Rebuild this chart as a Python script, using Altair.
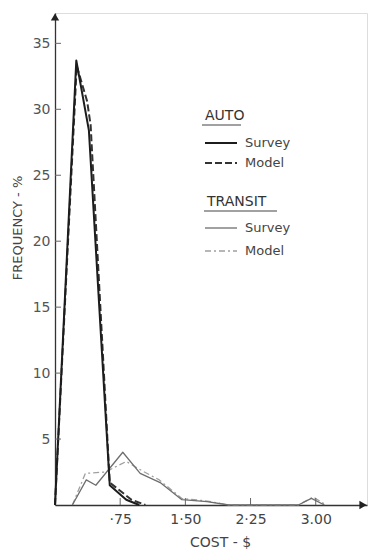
import altair as alt
import pandas as pd

# ---- data ----
auto_survey_cost = [0.0, 0.245, 0.39, 0.63, 0.82, 0.97]
auto_survey_freq = [0.0, 33.7, 28.4, 1.5, 0.4, 0.0]

auto_model_cost = [0.0, 0.25, 0.37, 0.41, 0.63, 0.88, 1.04]
auto_model_freq = [0.0, 33.3, 30.6, 28.8, 1.7, 0.4, 0.0]

transit_survey_cost = [0.2, 0.36, 0.47, 0.78, 0.98, 1.21, 1.46, 1.75, 2.0, 2.8, 2.95, 3.1]
transit_survey_freq = [0.0, 1.9, 1.5, 4.0, 2.4, 1.7, 0.4, 0.25, 0.0, 0.0, 0.5, 0.0]

transit_model_cost = [0.2, 0.35, 0.58, 0.82, 1.0, 1.2, 1.46, 1.75, 2.0, 2.8, 2.97, 3.12]
transit_model_freq = [0.0, 2.4, 2.5, 3.3, 2.6, 1.9, 0.5, 0.3, 0.0, 0.0, 0.6, 0.0]

x_ticks = [0.75, 1.5, 2.25, 3.0]
x_tick_labels = ["·75", "1·50", "2·25", "3.00"]
y_ticks = [5, 10, 15, 20, 25, 30, 35]
y_tick_labels = ["5", "10", "15", "20", "25", "30", "35"]

legend_groups = ["AUTO", "TRANSIT"]
legend_items = ["Survey", "Model"]

FONT = "DejaVu Sans"
W, H = 312, 492
XMAX, YMAX = 3.59, 37.3

xs = alt.Scale(domain=[0, XMAX], nice=False, zero=False)
ys = alt.Scale(domain=[0, YMAX], nice=False, zero=False)

x_label_expr = " : ".join(
    [f"datum.value == {v} ? '{l}'" for v, l in zip(x_ticks, x_tick_labels)] + ["''"]
)
y_label_expr = " : ".join(
    [f"datum.value == {v} ? '{l}'" for v, l in zip(y_ticks, y_tick_labels)] + ["''"]
)


def series(cost, freq):
    return pd.DataFrame({"cost": cost, "freq": freq})


def line(df, color, width, dash=None):
    kw = dict(color=color, strokeWidth=width, strokeJoin="round")
    if dash:
        kw["strokeDash"] = dash
    return alt.Chart(df).mark_line(**kw).encode(
        x=alt.X("cost:Q", scale=xs,
                axis=alt.Axis(values=x_ticks, labelExpr=x_label_expr, title=None,
                              ticks=False, grid=False, domainColor="#333",
                              domainWidth=1.3, labelFont=FONT, labelFontSize=14,
                              labelColor="#444", labelPadding=7)),
        y=alt.Y("freq:Q", scale=ys,
                axis=alt.Axis(values=y_ticks, labelExpr=y_label_expr, title=None,
                              ticks=False, grid=False, domainColor="#333",
                              domainWidth=1.3, labelFont=FONT, labelFontSize=14,
                              labelColor="#555", labelPadding=5)),
    )


base = alt.Chart(pd.DataFrame({"k": [0]}))

lines = [
    line(series(transit_model_cost, transit_model_freq), "#a0a0a0", 1.3, [6, 3, 2, 3]),
    line(series(transit_survey_cost, transit_survey_freq), "#6e6e6e", 1.3),
    line(series(auto_model_cost, auto_model_freq), "#333333", 2.0, [7, 3]),
    line(series(auto_survey_cost, auto_survey_freq), "#1c1c1c", 2.0),
]

ytick_rules = alt.Chart(pd.DataFrame({"v": y_ticks})).mark_rule(color="#666", strokeWidth=1).encode(
    y=alt.Y("v:Q", scale=ys), x=alt.value(0), x2=alt.value(6)
)
xtick_rules = alt.Chart(pd.DataFrame({"v": x_ticks})).mark_rule(color="#666", strokeWidth=1).encode(
    x=alt.X("v:Q", scale=xs), y=alt.value(H), y2=alt.value(H - 7)
)

arrow_y = base.mark_point(shape="triangle-up", filled=True, color="#222", size=70, opacity=1).encode(
    x=alt.value(0), y=alt.value(4)
)
arrow_x = base.mark_point(shape="triangle-right", filled=True, color="#222", size=70, opacity=1).encode(
    x=alt.value(W - 4), y=alt.value(H)
)

y_title = base.mark_text(text="FREQUENCY  -  %", angle=270, font=FONT, fontSize=13,
                         color="#444", align="center", baseline="middle").encode(
    x=alt.value(-37), y=alt.value(215)
)
x_title = base.mark_text(text="COST   -  $", font=FONT, fontSize=14, color="#444",
                         align="left", baseline="middle").encode(
    x=alt.value(135), y=alt.value(530)
)

legend_layers = []
# group headings
for label, gx, gy, ux2 in [(legend_groups[0], 150, 103, 186), (legend_groups[1], 152, 189, 222)]:
    legend_layers.append(base.mark_text(text=label, font=FONT, fontSize=14, color="#333",
                                        align="left", baseline="middle").encode(
        x=alt.value(gx), y=alt.value(gy)))
    legend_layers.append(base.mark_rule(color="#444", strokeWidth=1.2).encode(
        x=alt.value(gx - 3), x2=alt.value(ux2), y=alt.value(gy + 9)))

legend_styles = [
    (130, "#1c1c1c", 2.0, None),
    (150, "#333333", 2.0, [7, 3]),
    (215, "#6e6e6e", 1.3, None),
    (238, "#a0a0a0", 1.3, [6, 3, 2, 3]),
]
for i, (ly, col, sw, dash) in enumerate(legend_styles):
    kw = dict(color=col, strokeWidth=sw)
    if dash:
        kw["strokeDash"] = dash
    legend_layers.append(base.mark_rule(**kw).encode(
        x=alt.value(150), x2=alt.value(182), y=alt.value(ly)))
    legend_layers.append(base.mark_text(text=legend_items[i % 2], font=FONT, fontSize=13,
                                        color="#444", align="left", baseline="middle").encode(
        x=alt.value(190), y=alt.value(ly)))

chart = alt.layer(
    *lines, ytick_rules, xtick_rules, arrow_y, arrow_x, y_title, x_title, *legend_layers
).properties(
    width=W, height=H,
    autosize=alt.AutoSizeParams(type="none"),
    padding={"left": 55, "top": 13, "right": 6, "bottom": 45},
).configure_view(stroke=None).configure(background="white")

chart.save("out.html", embed_options={"renderer": "svg", "actions": False})
